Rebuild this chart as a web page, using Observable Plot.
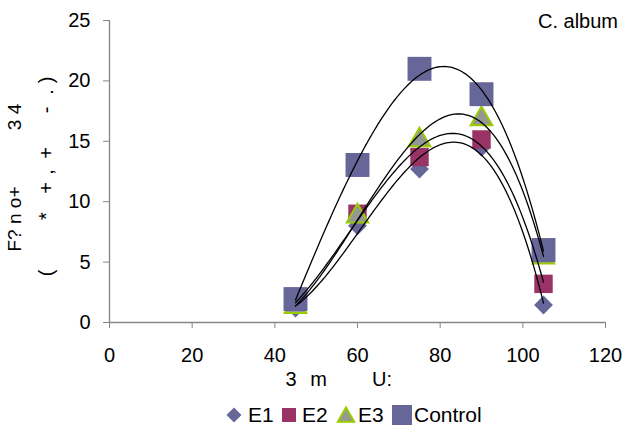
<!DOCTYPE html>
<html><head><meta charset="utf-8">
<script src="https://cdn.jsdelivr.net/npm/d3@7"></script>
<script src="https://cdn.jsdelivr.net/npm/@observablehq/plot@0.6"></script>
<style>
body{margin:0;background:#fff;font-family:"Liberation Sans",Arial,sans-serif;}
#wrap{position:relative;width:626px;height:428px;overflow:hidden;}
#legend{position:absolute;left:0;top:390px;width:626px;height:38px;}
</style></head><body><div id="wrap"><div id="chart"></div><div id="legend"></div></div>
<script>
// ---- data ----
const xValues = [45, 60, 75, 90, 105];
const e1 = [1.2, 8.0, 12.7, 14.5, 1.45];
const e2 = [1.5, 9.0, 13.7, 15.15, 3.2];
const e3 = [1.3, 8.8, 15.1, 16.85, 5.4];
const control = [1.94, 13.04, 21.0, 18.9, 6.0];
const seriesNames = ["E1", "E2", "E3", "Control"];
const xTicks = [0, 20, 40, 60, 80, 100, 120];
const yTicks = [0, 5, 10, 15, 20, 25];
const titleText = "C. album";

const seriesValues = [e1, e2, e3, control];
const colors = {E1: "#666699", E2: "#993366", E3: "#969696", Control: "#666699"};

const rows = seriesNames.map((s, i) => xValues.map((x, j) => ({series: s, x, y: seriesValues[i][j]})));

// cubic least-squares trendline (like a spreadsheet polynomial trendline)
function cubicFit(xs, ys) {
  const n = 4, A = Array.from({length: n}, () => new Array(n + 1).fill(0));
  xs.forEach((x0, k) => {
    const x = (x0 - 75) / 15;
    const p = [1, x, x * x, x * x * x];
    for (let i = 0; i < n; i++) { for (let j = 0; j < n; j++) A[i][j] += p[i] * p[j]; A[i][n] += p[i] * ys[k]; }
  });
  for (let i = 0; i < n; i++) {
    let m = i; for (let r = i + 1; r < n; r++) if (Math.abs(A[r][i]) > Math.abs(A[m][i])) m = r;
    [A[i], A[m]] = [A[m], A[i]];
    for (let r = 0; r < n; r++) if (r !== i) { const f = A[r][i] / A[i][i]; for (let c = i; c <= n; c++) A[r][c] -= f * A[i][c]; }
  }
  const co = A.map((row, i) => row[n] / row[i]);
  return x0 => { const x = (x0 - 75) / 15; return co[0] + co[1] * x + co[2] * x * x + co[3] * x * x * x; };
}
const fitRows = [];
seriesNames.forEach((s, i) => {
  const f = cubicFit(xValues, seriesValues[i]);
  const lo = d3.min(xValues), hi = d3.max(xValues);
  for (let x = lo; x <= hi + 1e-9; x += 0.5) fitRows.push({series: s, x, y: f(x)});
});

const axisGray = "#868686";
const plot = Plot.plot({
  width: 626, height: 390,
  marginLeft: 109, marginRight: 21, marginTop: 20, marginBottom: 68,
  style: {fontFamily: '"Liberation Sans", Arial, sans-serif', fontSize: "20px", color: "#000", background: "#fff", overflow: "visible"},
  x: {domain: [0, 120]},
  y: {domain: [0, 25]},
  marks: [
    Plot.ruleX([0], {stroke: axisGray, strokeWidth: 1.3}),
    Plot.ruleY([0], {stroke: axisGray, strokeWidth: 1.3}),
    Plot.axisX({ticks: xTicks, tickSize: 6, tickPadding: 19, stroke: axisGray, label: null, fontSize: 20}),
    Plot.axisY({ticks: yTicks, tickSize: 6, tickPadding: 13, stroke: axisGray, label: null, fontSize: 20}),
    Plot.dot(rows[0], {x: "x", y: "y", symbol: "diamond2", r: 8.5, fill: colors.E1, stroke: "none"}),
    Plot.dot(rows[1], {x: "x", y: "y", symbol: "square", r: 10.4, fill: colors.E2, stroke: "none"}),
    Plot.dot(rows[2], {x: "x", y: "y", symbol: "triangle", r: 8, fill: colors.E3, stroke: "#99cc00", strokeWidth: 2}),
    Plot.dot(rows[3], {x: "x", y: "y", symbol: "square", r: 13.5, fill: colors.Control, stroke: "none"}),
    Plot.line(fitRows, {x: "x", y: "y", z: "series", stroke: "#000", strokeWidth: 1.3, curve: "linear"})
  ]
});
document.getElementById("chart").appendChild(plot);

const svg = d3.select(plot);
const font = '"Liberation Sans", Arial, sans-serif';
// title
svg.append("text").attr("x", 538).attr("y", 28).attr("text-anchor", "start").attr("font-size", 20).attr("font-family", font).attr("fill", "#000").text(titleText);
// x-axis label (glyphs as in original)
[["3", 291], ["m", 318.5], ["U:", 382]].forEach(([t, x]) =>
  svg.append("text").attr("x", x).attr("y", 386).attr("text-anchor", "middle").attr("font-size", 20).attr("font-family", font).attr("fill", "#000").text(t));
// y-axis label, two rotated lines
const yl1 = [["F? n o+", 219], ["3 4", 117]];
const yl2 = [["(", 273], ["*", 216], ["+", 188], [",", 172], ["+", 153], ["-", 110], [".", 92], [")", 80]];
yl1.forEach(([t, y]) => svg.append("text").attr("transform", `translate(21,${y}) rotate(-90)`).attr("text-anchor", "middle").attr("font-size", 19).attr("font-family", font).attr("fill", "#000").text(t));
yl2.forEach(([t, y]) => svg.append("text").attr("transform", `translate(53,${y}) rotate(-90)`).attr("text-anchor", "middle").attr("font-size", 20).attr("font-family", font).attr("fill", "#000").text(t));

// legend
const leg = d3.select("#legend").append("svg").attr("width", 626).attr("height", 38);
const legItems = [
  {name: "E1", sym: d3.symbolDiamond2, size: 143, fill: colors.E1, stroke: "none", sx: 234, sy: 25, tx: 248},
  {name: "E2", sym: d3.symbolSquare, size: 196, fill: colors.E2, stroke: "none", sx: 289, sy: 25, tx: 302},
  {name: "E3", sym: d3.symbolTriangle, size: 115, fill: colors.E3, stroke: "#99cc00", sx: 346, sy: 27, tx: 358},
  {name: "Control", sym: d3.symbolSquare, size: 400, fill: colors.Control, stroke: "none", sx: 402, sy: 25, tx: 414}
];
legItems.forEach(it => {
  leg.append("path").attr("d", d3.symbol(it.sym, it.size)()).attr("transform", `translate(${it.sx},${it.sy})`)
    .attr("fill", it.fill).attr("stroke", it.stroke).attr("stroke-width", 2);
  leg.append("text").attr("x", it.tx).attr("y", 31.7).attr("font-size", 21).attr("font-family", font).attr("fill", "#000").text(it.name);
});
</script></body></html>
